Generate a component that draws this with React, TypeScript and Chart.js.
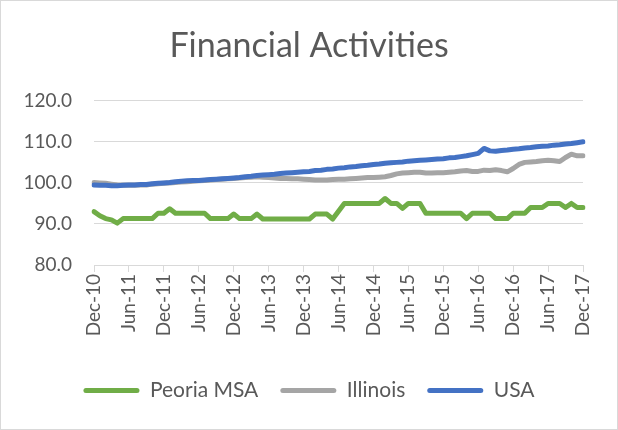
import React, { useEffect, useRef } from "react";
import { Chart, registerables } from "chart.js";

Chart.register(...registerables);

const MONTHS = ["Jan", "Feb", "Mar", "Apr", "May", "Jun", "Jul", "Aug", "Sep", "Oct", "Nov", "Dec"];
// Monthly categories Dec-10 .. Dec-17
const categories: string[] = [];
for (let k = 0; k < 85; k++) {
  const m = (11 + k) % 12;
  const y = 10 + Math.floor((11 + k) / 12);
  categories.push(`${MONTHS[m]}-${y}`);
}

const peoria = [
  93.0, 92.0, 91.3, 91.0, 90.2, 91.3, 91.3, 91.3, 91.3, 91.3, 91.3, 92.6,
  92.6, 93.7, 92.6, 92.6, 92.6, 92.6, 92.6, 92.6, 91.3, 91.3, 91.3, 91.3,
  92.4, 91.3, 91.3, 91.3, 92.4, 91.2, 91.2, 91.2, 91.2, 91.2, 91.2, 91.2,
  91.2, 91.2, 92.4, 92.4, 92.4, 91.2, 93.1, 95.0, 95.0, 95.0, 95.0, 95.0,
  95.0, 95.0, 96.2, 95.0, 95.0, 93.8, 95.0, 95.0, 95.0, 92.6, 92.6, 92.6,
  92.6, 92.6, 92.6, 92.6, 91.3, 92.6, 92.6, 92.6, 92.6, 91.3, 91.3, 91.3,
  92.6, 92.6, 92.6, 94.0, 94.0, 94.0, 95.0, 95.0, 95.0, 94.0, 95.0, 94.0,
  94.0,
];

const illinois = [
  100.1, 100.0, 99.9, 99.7, 99.5, 99.4, 99.4, 99.4, 99.5, 99.5, 99.7, 99.8,
  99.9, 100.0, 100.1, 100.2, 100.3, 100.4, 100.5, 100.6, 100.7, 100.8, 100.9, 101.0,
  101.1, 101.2, 101.3, 101.4, 101.5, 101.4, 101.3, 101.2, 101.1, 101.1, 101.0, 101.0,
  100.9, 100.8, 100.7, 100.7, 100.7, 100.8, 100.9, 100.9, 101.0, 101.1, 101.2, 101.3,
  101.3, 101.4, 101.5, 101.8, 102.2, 102.4, 102.5, 102.6, 102.6, 102.4, 102.4, 102.5,
  102.5, 102.6, 102.7, 102.9, 103.0, 102.8, 102.8, 103.1, 103.0, 103.2, 103.0, 102.7,
  103.5, 104.5, 105.0, 105.1, 105.2, 105.4, 105.5, 105.4, 105.2, 106.2, 107.0, 106.6,
  106.6,
];

const usa = [
  99.5, 99.4, 99.4, 99.3, 99.3, 99.4, 99.5, 99.5, 99.6, 99.6, 99.8, 99.9,
  100.0, 100.1, 100.3, 100.4, 100.5, 100.6, 100.6, 100.7, 100.8, 100.9, 101.0, 101.1,
  101.2, 101.3, 101.5, 101.6, 101.8, 101.9, 102.0, 102.1, 102.3, 102.4, 102.5, 102.6,
  102.7, 102.8, 103.0, 103.1, 103.3, 103.4, 103.6, 103.7, 103.9, 104.0, 104.2, 104.3,
  104.5, 104.6, 104.8, 104.9, 105.0, 105.1, 105.3, 105.4, 105.5, 105.6, 105.7, 105.8,
  105.9, 106.1, 106.2, 106.4, 106.6, 106.9, 107.2, 108.4, 107.8, 107.7, 107.9, 108.0,
  108.2, 108.3, 108.5, 108.6, 108.8, 108.9, 109.0, 109.2, 109.3, 109.5, 109.6, 109.8,
  110.0,
];

const seriesNames = ["Peoria MSA", "Illinois", "USA"];
const seriesColors = ["#70AD47", "#A5A5A5", "#4472C4"];
const yTicks = { min: 80, max: 120, step: 10 };
const FONT = "Lato, 'Open Sans', sans-serif";
const TEXT = "#595959";
const GRID = "#D9D9D9";

const frame = {
  id: "frame",
  beforeDraw(chart: any) {
    const { ctx, width, height } = chart;
    ctx.save();
    ctx.fillStyle = "#ffffff";
    ctx.fillRect(0, 0, width, height);
    ctx.restore();
  },
  afterDraw(chart: any) {
    const { ctx, width, height } = chart;
    ctx.save();
    ctx.strokeStyle = GRID;
    ctx.lineWidth = 1;
    ctx.strokeRect(0.5, 0.5, width - 1, height - 1);
    ctx.restore();
  },
};

export default function App() {
  const ref = useRef<HTMLCanvasElement | null>(null);
  useEffect(() => {
    if (!ref.current) return;
    const data = [peoria, illinois, usa];
    const chart = new Chart(ref.current, {
      type: "line",
      data: {
        labels: categories,
        datasets: seriesNames.map((name, i) => ({
          label: name,
          data: data[i],
          borderColor: seriesColors[i],
          backgroundColor: seriesColors[i],
          borderWidth: 5,
          pointRadius: 0,
          tension: 0,
          borderCapStyle: "round",
          borderJoinStyle: "round",
          order: 2 - i,
        })),
      },
      options: {
        responsive: false,
        animation: false,
        layout: { padding: { left: 0, right: 0, top: 0, bottom: 19 } },
        plugins: {
          title: {
            display: true,
            text: "Financial Activities",
            color: TEXT,
            font: { family: FONT, size: 34, weight: "normal" },
            padding: { top: 26, bottom: 34 },
          },
          legend: {
            position: "bottom",
            labels: {
              color: TEXT,
              font: { family: FONT, size: 21 },
              boxWidth: 56,
              boxHeight: 5,
              useBorderRadius: true,
              borderRadius: 2.5,
              padding: 22,
              sort: (a: any, b: any) => a.datasetIndex - b.datasetIndex,
              generateLabels: (c: any) =>
                Chart.defaults.plugins.legend.labels
                  .generateLabels(c)
                  .map((l: any) => ({ ...l, lineWidth: 0, fillStyle: seriesColors[l.datasetIndex] })),
            },
          },
          tooltip: { enabled: false },
        },
        scales: {
          x: {
            type: "category",
            grid: { display: true, drawOnChartArea: false, drawTicks: true, tickLength: 7, color: GRID },
            border: { color: GRID, width: 1 },
            ticks: {
              autoSkip: false,
              maxRotation: 90,
              minRotation: 90,
              color: TEXT,
              font: { family: FONT, size: 19 },
              padding: 2,
              callback: (_v: any, i: number) => (i % 6 === 0 ? categories[i] : null),
            },
            afterFit: (s: any) => {
              s.height = 93;
            },
          },
          y: {
            min: yTicks.min,
            max: yTicks.max,
            ticks: {
              stepSize: yTicks.step,
              color: TEXT,
              font: { family: FONT, size: 19 },
              padding: 22,
              callback: (v: any) => Number(v).toFixed(1),
            },
            grid: { color: GRID, drawTicks: false, lineWidth: 1 },
            border: { display: false },
            afterFit: (s: any) => {
              s.width = 94;
            },
          },
          yRight: {
            position: "right",
            display: true,
            min: yTicks.min,
            max: yTicks.max,
            grid: { display: false, drawTicks: false },
            border: { display: false },
            ticks: { display: false },
            afterFit: (s: any) => {
              s.width = 35;
            },
          },
        },
      },
      plugins: [frame],
    } as any);
    return () => chart.destroy();
  }, []);
  return (
    <div style={{ position: "absolute", left: 0, top: 0, width: 618, height: 430 }}>
      <canvas ref={ref} width={618} height={430} style={{ width: 618, height: 430, display: "block" }} />
    </div>
  );
}
